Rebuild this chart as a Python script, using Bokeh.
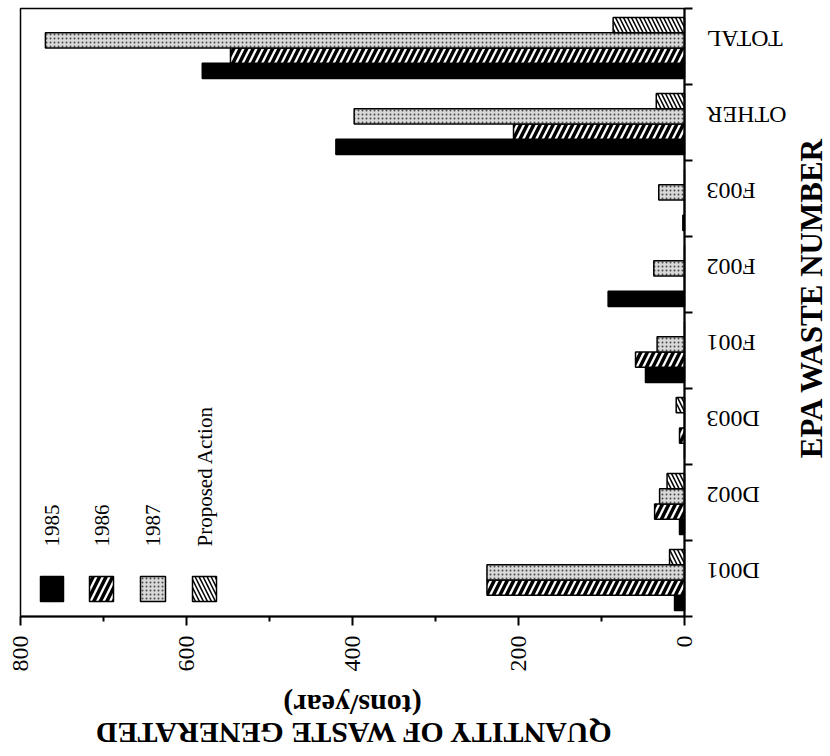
import math
from bokeh.plotting import figure
from bokeh.models import (ColumnDataSource, Range1d, FixedTicker, BoxAnnotation, Label)
from bokeh.transform import dodge
from bokeh.embed import file_html
from bokeh.resources import INLINE

# ---------------- data ----------------
categories = ["D001", "D002", "D003", "F001", "F002", "F003", "OTHER", "TOTAL"]
waste_1985 = [12, 6, 0, 47, 92, 2, 420, 581]
waste_1986 = [238, 36, 6, 59, 0, 0, 206, 547]
waste_1987 = [238, 30, 0, 33, 37, 31, 398, 770]
waste_proposed = [18, 21, 10, 0, 0, 0, 34, 86]
series_labels = ["1985", "1986", "1987", "Proposed Action"]
series_cols = ["y1985", "y1986", "y1987", "yprop"]
value_ticks = [0, 200, 400, 600, 800]
x_title = "QUANTITY OF WASTE GENERATED"
x_units = "(tons/year)"
y_title = "EPA WASTE NUMBER"

# ---------------- layout (pixels) ----------------
W, H = 830, 756
FRAME_L, FRAME_R, FRAME_T, FRAME_B = 20, 684, 8, 616
n = len(categories)
vmax = max(value_ticks)
x_scale = (FRAME_R - FRAME_L) / vmax
y_scale = (FRAME_B - FRAME_T) / n


def vx(px):
    return (FRAME_R - px) / x_scale


def vy(py):
    return (FRAME_B - py) / y_scale


# ---------------- styles ----------------
SERIF = "Liberation Serif"
styles = [
    dict(fill_color="black"),
    dict(fill_color="white", hatch_pattern="/", hatch_color="black",
         hatch_scale=13, hatch_weight=3.5),
    dict(fill_color="#d8d8d8", hatch_pattern=".", hatch_color="#4a4a4a",
         hatch_scale=4, hatch_weight=1.1),
    dict(fill_color="white", hatch_pattern="\\", hatch_color="black",
         hatch_scale=8, hatch_weight=1.5),
]
offsets = [-0.32, -0.12, 0.08, 0.28]
bar_h = 0.2

slot = [i + 0.5 for i in range(n)]          # category slot centres
source = ColumnDataSource(dict(cat=categories, slot=slot, y1985=waste_1985,
                               y1986=waste_1986, y1987=waste_1987,
                               yprop=waste_proposed))

p = figure(width=W, height=H, title=None,
           x_range=Range1d(vx(0), vx(W)), y_range=Range1d(vy(H), vy(0)),
           output_backend="svg", toolbar_location=None, y_axis_location="right",
           min_border=0)
p.grid.visible = False
p.outline_line_color = None
p.background_fill_color = "white"
p.border_fill_color = "white"

# plot frame (left and top edges of the box)
p.add_layout(BoxAnnotation(left=vmax, right=0, bottom=0, top=n, fill_color=None,
                           fill_alpha=0, line_color="black", line_width=1.5,
                           line_alpha=1))

for col, st, off in zip(series_cols, styles, offsets):
    p.hbar(y=dodge("slot", off), left=0, right=col, height=bar_h,
           source=source, line_color="black", line_width=1.5, **st)

# ---------------- bottom (value) axis ----------------
minor = [(a + b) / 2 for a, b in zip(value_ticks[:-1], value_ticks[1:])]
xa = p.xaxis[0]
xa.fixed_location = 0
xa.bounds = (0, vmax)
xa.ticker = FixedTicker(ticks=value_ticks, minor_ticks=minor)
xa.axis_line_width = 2
xa.major_tick_in = 0
xa.major_tick_out = 9
xa.major_tick_line_width = 2
xa.minor_tick_in = 0
xa.minor_tick_out = 5
xa.minor_tick_line_width = 2
xa.major_label_orientation = math.pi / 2
xa.major_label_standoff = 10
xa.major_label_text_font = SERIF
xa.major_label_text_font_size = "24px"
xa.major_label_text_color = "black"

# ---------------- right (category) axis: ticks at slot boundaries ----------------
ya = p.yaxis[0]
ya.fixed_location = 0
ya.bounds = (0, n)
ya.ticker = FixedTicker(ticks=[], minor_ticks=list(range(n + 1)))
ya.axis_line_width = 2
ya.major_tick_line_color = None
ya.minor_tick_in = 0
ya.minor_tick_out = 8
ya.minor_tick_line_width = 2

# category names, upside down, to the right of the axis
for s, name in zip(slot, categories):
    p.add_layout(Label(x=vx(706), y=s + 7.5 / y_scale, text=name, angle=math.pi,
                       angle_units="rad", text_align="right",
                       text_baseline="alphabetic", text_font=SERIF,
                       text_font_size="24px", text_color="black"))

# axis titles
p.add_layout(Label(x=vx(811), y=vy(297), text=y_title, angle=math.pi / 2,
                   angle_units="rad", text_align="center", text_baseline="middle",
                   text_font=SERIF, text_font_size="31px", text_font_style="bold",
                   text_color="black"))
p.add_layout(Label(x=vmax / 2, y=vy(733), text=x_title, angle=math.pi,
                   angle_units="rad", text_align="center",
                   text_baseline="alphabetic", text_font=SERIF,
                   text_font_size="30px", text_font_style="bold",
                   text_color="black"))
p.add_layout(Label(x=vmax / 2, y=vy(705), text=x_units, angle=math.pi,
                   angle_units="rad", text_align="center",
                   text_baseline="alphabetic", text_font=SERIF,
                   text_font_size="30px", text_font_style="bold",
                   text_color="black"))

# ---------------- legend (drawn as annotations) ----------------
sw_px = [(40, 63), (89, 113), (140, 165), (192, 216)]
sw_py = (576, 601)
lab_py = 546
for lbl, st, (a, b) in zip(series_labels, styles, sw_px):
    p.add_layout(BoxAnnotation(left=vx(a), right=vx(b),
                               top=vy(sw_py[0]), bottom=vy(sw_py[1]),
                               line_color="black", line_width=1.5, line_alpha=1,
                               fill_alpha=1, **st))
    p.add_layout(Label(x=vx((a + b) / 2), y=vy(lab_py), text=lbl,
                       angle=math.pi / 2, angle_units="rad", text_align="left",
                       text_baseline="middle", text_font=SERIF,
                       text_font_size="21px", text_color="black"))

open("out.html", "w").write(file_html(p, INLINE))
